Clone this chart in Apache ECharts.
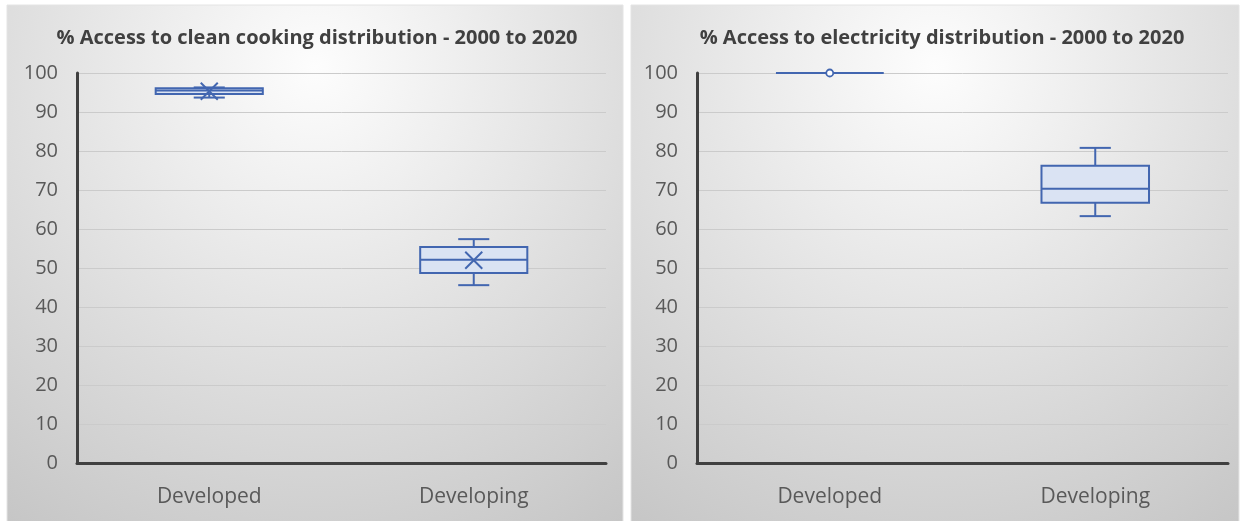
<!DOCTYPE html>
<html>
<head>
<meta charset="utf-8">
<script src="https://cdn.jsdelivr.net/npm/echarts@6/dist/echarts.min.js"></script>
<style>
html,body{margin:0;padding:0;background:#fff;}
#c{width:1241px;height:521px;}
</style>
</head>
<body>
<div id="c"></div>
<script>
// ---- data ----
const categories = ['Developed', 'Developing'];
const yTicks = [0, 10, 20, 30, 40, 50, 60, 70, 80, 90, 100];
// [min, q1, median, q3, max]
const cookingBox = [[93.7, 94.6, 95.5, 96.1, 96.3], [45.6, 48.7, 52.1, 55.4, 57.4]];
const cookingMean = [95.3, 52.0];
const elecBox = [[100, 100, 100, 100, 100], [63.3, 66.7, 70.3, 76.2, 80.8]];
const elecMean = [100, null];
const titles = ['% Access to clean cooking distribution - 2000 to 2020', '% Access to electricity distribution - 2000 to 2020'];

const STROKE = '#4266b0';
const FILL = '#dae3f3';
const FONT = 'Open Sans';

function buildData(box, mean) {
  return box.map((b, i) => [i].concat(b).concat([mean[i] == null ? NaN : mean[i]]));
}

function makeRender(markerType) {
  return function (params, api) {
    const ci = api.value(0);
    const vals = [1, 2, 3, 4, 5].map(k => api.value(k));
    const mean = api.value(6);
    const w = api.size([1, 0])[0] * 0.405;
    const capW = w * 0.29;
    const pMin = api.coord([ci, vals[0]]);
    const pQ1 = api.coord([ci, vals[1]]);
    const pMed = api.coord([ci, vals[2]]);
    const pQ3 = api.coord([ci, vals[3]]);
    const pMax = api.coord([ci, vals[4]]);
    const x = pMed[0];
    const ls = { stroke: STROKE, lineWidth: 2, fill: null };
    const children = [
      { type: 'line', shape: { x1: x, y1: pQ1[1], x2: x, y2: pMin[1] }, style: ls },
      { type: 'line', shape: { x1: x, y1: pQ3[1], x2: x, y2: pMax[1] }, style: ls },
      { type: 'line', shape: { x1: x - capW / 2, y1: pMin[1], x2: x + capW / 2, y2: pMin[1] }, style: ls },
      { type: 'line', shape: { x1: x - capW / 2, y1: pMax[1], x2: x + capW / 2, y2: pMax[1] }, style: ls },
      { type: 'rect', shape: { x: x - w / 2, y: pQ3[1], width: w, height: Math.max(pQ1[1] - pQ3[1], 0) }, style: { fill: FILL, stroke: STROKE, lineWidth: 2 } },
      { type: 'line', shape: { x1: x - w / 2, y1: pMed[1], x2: x + w / 2, y2: pMed[1] }, style: ls }
    ];
    if (!isNaN(mean)) {
      const pm = api.coord([ci, mean]);
      if (markerType === 'x') {
        const s = 8.5;
        children.push({ type: 'line', shape: { x1: pm[0] - s, y1: pm[1] - s, x2: pm[0] + s, y2: pm[1] + s }, style: ls });
        children.push({ type: 'line', shape: { x1: pm[0] - s, y1: pm[1] + s, x2: pm[0] + s, y2: pm[1] - s }, style: ls });
      } else {
        children.push({ type: 'circle', shape: { cx: pm[0], cy: pm[1], r: 3.5 }, style: { fill: '#ffffff', stroke: STROKE, lineWidth: 1.8 } });
      }
    }
    return { type: 'group', children: children };
  };
}

const chart = echarts.init(document.getElementById('c'), null, { renderer: 'canvas' });

function bg(x, w) {
  return {
    type: 'rect', z: -10, silent: true,
    shape: { x: x, y: 5, width: w, height: 520 },
    style: {
      fill: new echarts.graphic.RadialGradient(0.5, 0.12, 1.05, [
        { offset: 0, color: '#fdfdfd' },
        { offset: 1, color: '#c6c6c6' }
      ]),
      stroke: '#e4e4e4', lineWidth: 1
    }
  };
}

const grids = [
  { left: 77, right: 1241 - 606, top: 73, bottom: 58 },
  { left: 697, right: 13, top: 73, bottom: 58 }
];

function xAxis(i) {
  return {
    type: 'category', gridIndex: i, data: categories, boundaryGap: true,
    axisLine: { show: true, lineStyle: { color: '#404040', width: 3 } },
    axisTick: { show: false },
    axisLabel: { color: '#595959', fontSize: 21, fontFamily: FONT, margin: 24 },
    splitLine: { show: false }
  };
}
function yAxis(i) {
  return {
    type: 'value', gridIndex: i, min: yTicks[0], max: yTicks[yTicks.length - 1], interval: yTicks[1] - yTicks[0],
    axisLine: { show: true, lineStyle: { color: '#404040', width: 3 } },
    axisTick: { show: false },
    axisLabel: { color: '#595959', fontSize: 20, fontFamily: FONT, margin: 19 },
    splitLine: { show: true, lineStyle: { color: '#cbcbcb', width: 1 } }
  };
}

const titleStyle = { fontFamily: FONT, fontWeight: 'bold', fontSize: 20, color: '#404040' };

chart.setOption({
  animation: false,
  backgroundColor: '#ffffff',
  graphic: [bg(7, 616), bg(631, 608)],
  title: [
    { text: titles[0], left: 312, top: 23, textAlign: 'center', textStyle: titleStyle },
    { text: titles[1], left: 937, top: 23, textAlign: 'center', textStyle: titleStyle }
  ],
  grid: grids,
  xAxis: [xAxis(0), xAxis(1)],
  yAxis: [yAxis(0), yAxis(1)],
  series: [
    { type: 'custom', xAxisIndex: 0, yAxisIndex: 0, renderItem: makeRender('x'), data: buildData(cookingBox, cookingMean), encode: { x: 0, y: [1, 2, 3, 4, 5] }, z: 5 },
    { type: 'custom', xAxisIndex: 1, yAxisIndex: 1, renderItem: makeRender('o'), data: buildData(elecBox, elecMean), encode: { x: 0, y: [1, 2, 3, 4, 5] }, z: 5 }
  ]
});
</script>
</body>
</html>
